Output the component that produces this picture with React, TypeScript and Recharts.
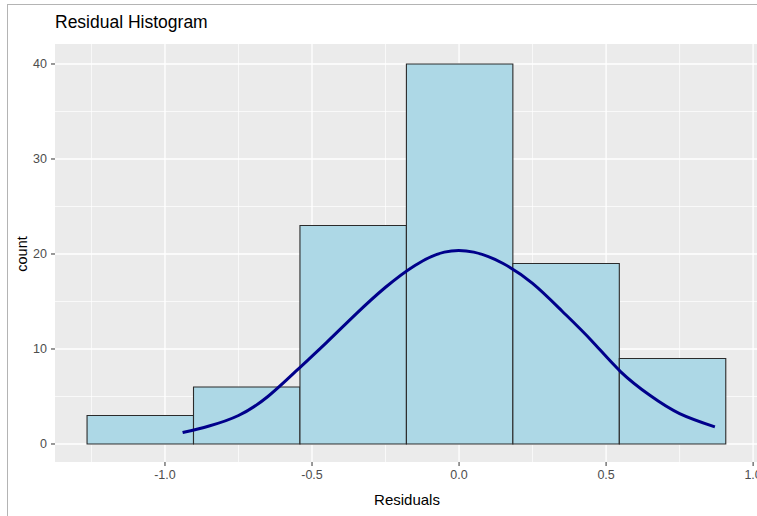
import React from 'react';
import { ComposedChart, Line, XAxis, YAxis, CartesianGrid, ReferenceArea } from 'recharts';

// 히스토그램 구간 (residual bin edges) 과 빈도
const BIN_EDGES = [-1.265, -0.903, -0.541, -0.179, 0.183, 0.545, 0.907];
const COUNTS = [3, 6, 23, 40, 19, 9];

// 정규분포 곡선
const CURVE_X = [-0.94, -0.85, -0.75, -0.65, -0.55, -0.45, -0.35, -0.25, -0.15, -0.05, 0.05, 0.15, 0.25, 0.35, 0.45, 0.55, 0.65, 0.75, 0.87];
const CURVE_Y = [1.2, 1.9, 3.0, 5.0, 7.8, 10.7, 13.7, 16.5, 18.8, 20.2, 20.2, 19.0, 16.9, 14.0, 10.9, 7.6, 5.1, 3.2, 1.8];

const X_TICKS = [-1.0, -0.5, 0.0, 0.5, 1.0];
const X_MINOR = [-1.25, -0.75, -0.25, 0.25, 0.75];
const Y_TICKS = [0, 10, 20, 30, 40];
const Y_MINOR = [5, 15, 25, 35];

const FONT = '"Liberation Sans", Arial, sans-serif';

export default function App() {
  const curve = CURVE_X.map((x, i) => ({ x, y: CURVE_Y[i] }));

  return (
    <div
      style={{
        position: 'fixed', left: 0, top: 0, width: 757, height: 516,
        overflow: 'hidden', background: '#fff', fontFamily: FONT,
      }}
    >
      {/* 바깥 테두리 (왼쪽, 위쪽) */}
      <div style={{ position: 'absolute', left: 7, top: 4, right: 0, bottom: 0, borderLeft: '1.5px solid #b4b4b4', borderTop: '1.5px solid #b4b4b4' }} />

      <div style={{ position: 'absolute', left: 55, top: 12, fontSize: 17.5, color: '#000', whiteSpace: 'nowrap' }}>
        Residual Histogram
      </div>

      <div style={{ position: 'absolute', left: 0, top: 0 }}>
        <ComposedChart
          width={770}
          height={516}
          data={curve}
          margin={{ top: 44, right: 11, bottom: 24, left: 5 }}
        >
          {/* 패널 배경 + 보조 격자 */}
          <CartesianGrid
            fill="#EBEBEB"
            fillOpacity={1}
            stroke="#fff"
            strokeWidth={0.7}
            horizontalValues={Y_MINOR}
            verticalValues={X_MINOR}
          />
          {/* 주 격자 */}
          <CartesianGrid
            stroke="#fff"
            strokeWidth={1.3}
            horizontalValues={Y_TICKS}
            verticalValues={X_TICKS}
          />
          <XAxis
            dataKey="x"
            type="number"
            domain={[-1.374, 1.02]}
            allowDataOverflow
            ticks={X_TICKS}
            tickFormatter={(v: number) => v.toFixed(1)}
            height={30}
            axisLine={false}
            tickSize={4}
            tickMargin={4}
            tickLine={{ stroke: '#333' }}
            tick={{ fill: '#4D4D4D', fontSize: 12.5, fontFamily: FONT }}
            interval={0}
          />
          <YAxis
            type="number"
            domain={[-1.895, 42.105]}
            allowDataOverflow
            ticks={Y_TICKS}
            width={50}
            axisLine={false}
            tickSize={4}
            tickMargin={4}
            tickLine={{ stroke: '#333' }}
            tick={{ fill: '#4D4D4D', fontSize: 12.5, fontFamily: FONT }}
            interval={0}
          />
          {COUNTS.map((c, i) => (
            <ReferenceArea
              key={'bin' + i}
              x1={BIN_EDGES[i]}
              x2={BIN_EDGES[i + 1]}
              y1={0}
              y2={c}
              fill="#ADD8E6"
              fillOpacity={1}
              stroke="#2b2b2b"
              strokeWidth={1.1}
            />
          ))}
          <Line
            dataKey="y"
            type="natural"
            stroke="#00008B"
            strokeWidth={3}
            dot={false}
            activeDot={false}
            isAnimationActive={false}
          />
        </ComposedChart>
      </div>

      <div
        style={{
          position: 'absolute', left: 22, top: 254, fontSize: 14.5, color: '#000',
          transform: 'translate(-50%, -50%) rotate(-90deg)', whiteSpace: 'nowrap',
        }}
      >
        count
      </div>
      <div
        style={{
          position: 'absolute', left: 407, top: 499, fontSize: 15, color: '#000',
          transform: 'translate(-50%, -50%)', whiteSpace: 'nowrap',
        }}
      >
        Residuals
      </div>
    </div>
  );
}
